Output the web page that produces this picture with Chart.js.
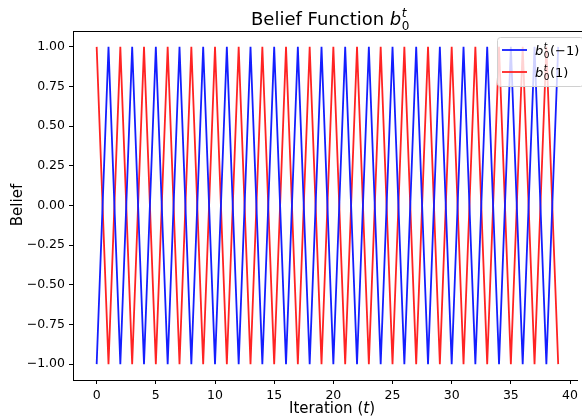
<!DOCTYPE html>
<html lang="en">
<head>
    <meta charset="UTF-8">
    <title>Belief Function</title>
    <script src="https://cdn.jsdelivr.net/npm/chart.js"></script>
    <style>
        html, body { margin: 0; padding: 0; background: #fff; }
        #wrap { width: 582px; height: 418px; }
    </style>
</head>
<body>
    <div id="wrap">
        <canvas id="beliefChart" width="582" height="418"></canvas>
    </div>

    <script>
        // iterations 0..39
        const iterations = [0, 1, 2, 3, 4, 5, 6, 7, 8, 9, 10, 11, 12, 13, 14, 15, 16, 17, 18, 19,
                            20, 21, 22, 23, 24, 25, 26, 27, 28, 29, 30, 31, 32, 33, 34, 35, 36, 37, 38, 39];
        // b_0^t(-1)
        const beliefMinus = [-1, 1, -1, 1, -1, 1, -1, 1, -1, 1, -1, 1, -1, 1, -1, 1, -1, 1, -1, 1,
                             -1, 1, -1, 1, -1, 1, -1, 1, -1, 1, -1, 1, -1, 1, -1, 1, -1, 1, -1, 1];
        // b_0^t(1)
        const beliefPlus = [1, -1, 1, -1, 1, -1, 1, -1, 1, -1, 1, -1, 1, -1, 1, -1, 1, -1, 1, -1,
                            1, -1, 1, -1, 1, -1, 1, -1, 1, -1, 1, -1, 1, -1, 1, -1, 1, -1, 1, -1];
        const xTicks = [0, 5, 10, 15, 20, 25, 30, 35, 40];
        const yTicks = [-1.00, -0.75, -0.50, -0.25, 0.00, 0.25, 0.50, 0.75, 1.00];

        const FONT = "'DejaVu Sans', sans-serif";
        const BLUE = 'rgb(20, 30, 255)';
        const RED = 'rgb(255, 35, 35)';

        // draws "b" italic with sub 0 and sup t, returns new x
        function drawB(ctx, x, y, size) {
            ctx.font = 'italic ' + size + 'px ' + FONT;
            ctx.fillText('b', x, y);
            x += ctx.measureText('b').width + 0.5;
            const small = Math.round(size * 0.68);
            ctx.font = 'italic ' + small + 'px ' + FONT;
            ctx.fillText('t', x, y - size * 0.45);
            ctx.font = small + 'px ' + FONT;
            ctx.fillText('0', x, y + size * 0.25);
            return x + ctx.measureText('0').width + 0.5;
        }

        const textPlugin = {
            id: 'textPlugin',
            afterDraw(chart) {
                const ctx = chart.ctx;
                const area = chart.chartArea;
                ctx.save();

                // top spine (right spine is outside the figure)
                ctx.strokeStyle = '#000';
                ctx.lineWidth = 1;
                ctx.beginPath();
                ctx.moveTo(area.left, Math.round(area.top) + 0.5);
                ctx.lineTo(582, Math.round(area.top) + 0.5);
                ctx.stroke();

                ctx.fillStyle = '#000';
                ctx.textBaseline = 'alphabetic';
                ctx.textAlign = 'left';

                // title
                ctx.font = '18px ' + FONT;
                const t1 = 'Belief Function ';
                const w1 = ctx.measureText(t1).width;
                let tx = 251;
                ctx.fillText(t1, tx, 25);
                drawB(ctx, tx + w1, 25, 18);

                // x axis label
                ctx.font = '15px ' + FONT;
                let lx = 289;
                ctx.fillText('Iteration (', lx, 413);
                lx += ctx.measureText('Iteration (').width;
                ctx.font = 'italic 15px ' + FONT;
                ctx.fillText('t', lx, 413);
                lx += ctx.measureText('t').width;
                ctx.font = '15px ' + FONT;
                ctx.fillText(')', lx, 413);

                // y axis label
                ctx.save();
                ctx.translate(22, 205);
                ctx.rotate(-Math.PI / 2);
                ctx.textAlign = 'center';
                ctx.font = '15px ' + FONT;
                ctx.fillText('Belief', 0, 0);
                ctx.restore();

                // legend box
                const bx = 497, by = 37, bw = 86, bh = 49;
                ctx.fillStyle = 'rgba(255,255,255,0.8)';
                ctx.strokeStyle = '#d0d0d0';
                ctx.lineWidth = 1;
                ctx.beginPath();
                ctx.roundRect(bx + 0.5, by + 0.5, bw, bh, 3);
                ctx.fill();
                ctx.stroke();

                const entries = [
                    { color: BLUE, arg: '(\u22121)', y: 50 },
                    { color: RED, arg: '(1)', y: 72 }
                ];
                entries.forEach(e => {
                    ctx.strokeStyle = e.color;
                    ctx.lineWidth = 1.8;
                    ctx.beginPath();
                    ctx.moveTo(502, e.y);
                    ctx.lineTo(527, e.y);
                    ctx.stroke();
                    ctx.fillStyle = '#000';
                    let ex = drawB(ctx, 535, e.y + 5, 13);
                    ctx.font = '13px ' + FONT;
                    ctx.fillText(e.arg, ex, e.y + 5);
                });
                ctx.restore();
            }
        };

        const tickStyle = {
            color: '#000',
            font: { family: FONT, size: 12.5 },
            padding: 4
        };

        new Chart(document.getElementById('beliefChart').getContext('2d'), {
            type: 'line',
            data: {
                labels: iterations,
                datasets: [
                    {
                        label: 'b0t(-1)',
                        data: iterations.map((t, i) => ({ x: t, y: beliefMinus[i] })),
                        borderColor: BLUE,
                        borderWidth: 1.8,
                        pointRadius: 0,
                        tension: 0,
                        fill: false
                    },
                    {
                        label: 'b0t(1)',
                        data: iterations.map((t, i) => ({ x: t, y: beliefPlus[i] })),
                        borderColor: RED,
                        borderWidth: 1.8,
                        pointRadius: 0,
                        tension: 0,
                        fill: false
                    }
                ]
            },
            options: {
                responsive: false,
                animation: false,
                events: [],
                layout: { padding: { top: 31, right: 1, left: 0, bottom: 0 } },
                plugins: {
                    legend: { display: false },
                    tooltip: { enabled: false },
                    title: { display: false }
                },
                scales: {
                    x: {
                        type: 'linear',
                        min: -2.0,
                        max: 40.6,
                        afterBuildTicks: axis => { axis.ticks = xTicks.map(v => ({ value: v })); },
                        ticks: Object.assign({}, tickStyle, { callback: v => String(v) }),
                        grid: { drawOnChartArea: false, drawTicks: true, tickLength: 4, color: '#000' },
                        border: { color: '#000', width: 1 },
                        afterFit: axis => { axis.height = 38; }
                    },
                    y: {
                        min: -1.1,
                        max: 1.1,
                        afterBuildTicks: axis => { axis.ticks = yTicks.map(v => ({ value: v })); },
                        ticks: Object.assign({}, tickStyle, {
                            callback: v => (v < 0 ? '\u2212' : '') + Math.abs(v).toFixed(2)
                        }),
                        grid: { drawOnChartArea: false, drawTicks: true, tickLength: 4, color: '#000' },
                        border: { color: '#000', width: 1 },
                        afterFit: axis => { axis.width = 73; }
                    }
                }
            },
            plugins: [textPlugin]
        });
    </script>
</body>
</html>
